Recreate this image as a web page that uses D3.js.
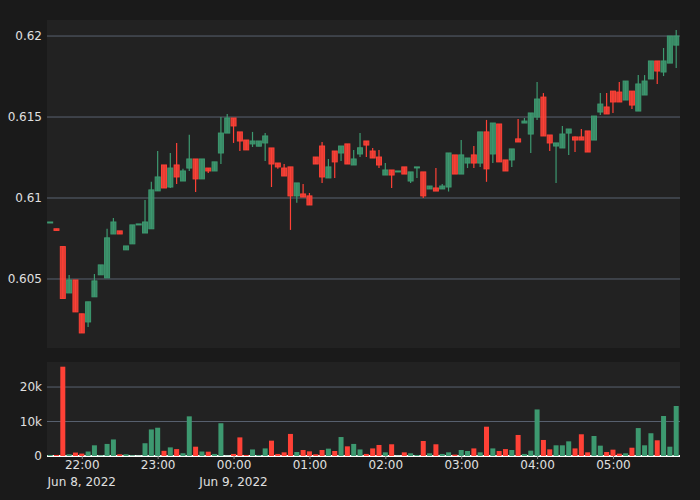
<!DOCTYPE html>
<html>
<head>
<meta charset="utf-8">
<script src="https://cdn.jsdelivr.net/npm/d3@7"></script>
<style>
  body { margin: 0; background: #1a1a1a; }
  text { font-family: "DejaVu Sans", sans-serif; }
</style>
</head>
<body>
<svg id="chart"></svg>
<script>
// 5-minute candles, starting 2022-06-08 21:35
const startTime = new Date(2022, 5, 8, 21, 35);
const opens  = [0.60852,0.6081,0.6070,0.60414,0.60494,0.60285,0.60235,0.6039,0.60526,0.60507,0.60778,0.60797,0.6068,0.60717,0.60834,0.60784,0.6081,0.61044,0.61204,0.61068,0.61204,0.61105,0.61185,0.61241,0.61118,0.61185,0.61167,0.61278,0.61401,0.61494,0.61408,0.61358,0.61334,0.6132,0.6134,0.61309,0.61216,0.61185,0.61192,0.61013,0.61025,0.61013,0.61253,0.61321,0.61124,0.6129,0.61278,0.61334,0.61204,0.61272,0.61352,0.6129,0.61253,0.61142,0.61173,0.61161,0.61192,0.61105,0.61186,0.61161,0.61056,0.61062,0.61056,0.61068,0.61266,0.61148,0.61216,0.61266,0.61216,0.61408,0.61272,0.61457,0.61235,0.61235,0.61365,0.61463,0.61395,0.615,0.61623,0.61389,0.61321,0.61309,0.61401,0.61377,0.61377,0.61414,0.61358,0.61531,0.61562,0.6166,0.61654,0.61605,0.6166,0.61537,0.61636,0.61735,0.61846,0.61778,0.61833,0.61944];
const highs  = [0.60852,0.6081,0.6070,0.60525,0.60494,0.60285,0.60359,0.60531,0.60587,0.6081,0.60877,0.60797,0.60704,0.60834,0.6084,0.60988,0.6110,0.6129,0.61204,0.61278,0.6134,0.6118,0.6139,0.61241,0.61241,0.61185,0.61223,0.615,0.61519,0.61494,0.61408,0.61358,0.61408,0.61352,0.61401,0.61309,0.61216,0.6121,0.61192,0.61093,0.61087,0.61031,0.61253,0.61346,0.61241,0.6129,0.61321,0.61334,0.61297,0.61401,0.61352,0.61309,0.61297,0.61216,0.61173,0.61167,0.61192,0.61161,0.61192,0.61161,0.61074,0.61186,0.61087,0.61278,0.61266,0.61358,0.61247,0.61321,0.61408,0.61482,0.61463,0.61457,0.61235,0.61303,0.61488,0.61494,0.61525,0.61716,0.61648,0.61389,0.6134,0.61445,0.61426,0.6138,0.61426,0.61414,0.61506,0.61648,0.61648,0.6166,0.61716,0.61722,0.6166,0.61759,0.61759,0.61846,0.61846,0.61926,0.62,0.62037];
const lows   = [0.60852,0.6080,0.6038,0.60414,0.60297,0.60167,0.60204,0.6039,0.60526,0.60507,0.60778,0.60778,0.6068,0.60717,0.60834,0.60784,0.6081,0.61044,0.61062,0.61062,0.61087,0.61105,0.61167,0.61037,0.61118,0.61155,0.61167,0.6121,0.61401,0.6134,0.6129,0.61297,0.61315,0.6132,0.61229,0.61068,0.6118,0.61136,0.60803,0.6097,0.61006,0.60957,0.6121,0.61093,0.61124,0.61124,0.61229,0.6121,0.61204,0.61253,0.61253,0.61247,0.61185,0.61142,0.61062,0.61161,0.61148,0.61093,0.61124,0.61,0.61056,0.61043,0.61056,0.6104,0.61148,0.61148,0.61185,0.61185,0.61192,0.611,0.61216,0.61223,0.61167,0.61192,0.61346,0.61463,0.61278,0.61482,0.61383,0.6129,0.61093,0.61309,0.61266,0.61284,0.61358,0.61284,0.61358,0.61512,0.61519,0.61525,0.61593,0.61605,0.6155,0.61537,0.61636,0.61735,0.61704,0.61753,0.61833,0.61803];
const closes = [0.60852,0.6080,0.6038,0.60494,0.60297,0.60167,0.60359,0.60488,0.60587,0.60754,0.60852,0.60778,0.60704,0.60834,0.6084,0.60852,0.6105,0.6113,0.61062,0.61185,0.6113,0.61167,0.61241,0.61118,0.61241,0.61167,0.61223,0.61401,0.61494,0.61445,0.61352,0.61297,0.61352,0.61352,0.61383,0.6121,0.61192,0.61136,0.61013,0.61093,0.61006,0.60957,0.6121,0.6113,0.61192,0.61223,0.61321,0.6121,0.61241,0.6131,0.61327,0.61247,0.61204,0.61173,0.61142,0.61167,0.61148,0.61161,0.61192,0.61013,0.61074,0.61043,0.61074,0.61278,0.61148,0.61266,0.61247,0.61216,0.61408,0.6118,0.61463,0.61223,0.61167,0.61303,0.61346,0.61475,0.61525,0.61611,0.61383,0.6134,0.6134,0.61395,0.61426,0.61358,0.61358,0.61284,0.61506,0.6158,0.61519,0.61593,0.61593,0.61722,0.61574,0.61704,0.61722,0.61846,0.61784,0.61846,0.62,0.62];
const volumes = [300,300,25900,500,1000,700,1300,3100,200,3500,4800,500,500,200,100,3700,7700,8200,1500,2500,2000,800,11500,2700,1300,1250,600,9500,100,600,5400,300,1900,300,2200,4450,600,1060,6400,1160,1740,1350,500,1740,2130,1450,5500,2800,3500,1900,600,2200,3200,1060,3400,100,1060,780,300,4350,780,3400,600,1060,400,1740,1450,2200,1060,8500,2200,1450,2000,1740,6100,600,1550,13500,4650,1930,3100,3100,4250,2200,6300,1060,5800,3000,1160,1840,680,780,2400,8100,3100,6600,4550,11600,2700,14500];
const priceTicks = [0.605, 0.61, 0.615, 0.62];
const volumeTicks = [0, 10000, 20000];

const candles = opens.map((o, i) => ({
  t: new Date(startTime.getTime() + i * 5 * 60000),
  o: o, h: highs[i], l: lows[i], c: closes[i], v: volumes[i]
}));

const width = 700, height = 500;
const left = 47, right = 680;
const priceTop = 20, priceBottom = 348;
const volTop = 362, volBottom = 456;
const up = '#3d9970', down = '#ff4136';

const svg = d3.select('#chart').attr('width', width).attr('height', height);
svg.append('rect').attr('width', width).attr('height', height).attr('fill', '#1a1a1a');
svg.append('rect').attr('x', left).attr('y', priceTop).attr('width', right - left).attr('height', priceBottom - priceTop).attr('fill', '#222');
svg.append('rect').attr('x', left).attr('y', volTop).attr('width', right - left).attr('height', volBottom - volTop).attr('fill', '#222');

const xscale = d3.scaleTime()
  .domain([new Date(2022, 5, 8, 21, 32, 30), new Date(2022, 5, 9, 5, 53, 0)])
  .range([left, right]);
const yscale = d3.scaleLinear().domain([0.60074, 0.62099]).range([priceBottom, priceTop]);
const vscale = d3.scaleLinear().domain([0, 27260]).range([volBottom, volTop]);

// grid + y labels
svg.append('g').selectAll('line').data(priceTicks).join('line')
  .attr('x1', left).attr('x2', right)
  .attr('y1', d => yscale(d)).attr('y2', d => yscale(d))
  .attr('stroke', '#596270');
svg.append('g').selectAll('text').data(priceTicks).join('text')
  .attr('x', left - 5).attr('y', d => yscale(d)).attr('dy', '0.35em')
  .attr('text-anchor', 'end').attr('fill', '#e0e0e0').attr('font-size', 12)
  .text(d => d3.format('')(d));

svg.append('g').selectAll('line').data(volumeTicks).join('line')
  .attr('x1', left).attr('x2', right)
  .attr('y1', d => vscale(d)).attr('y2', d => vscale(d))
  .attr('stroke', d => d === 0 ? '#ffffff' : '#596270')
  .attr('stroke-width', d => d === 0 ? 2 : 1);
svg.append('g').selectAll('text').data(volumeTicks).join('text')
  .attr('x', left - 5).attr('y', d => vscale(d)).attr('dy', '0.35em')
  .attr('text-anchor', 'end').attr('fill', '#e0e0e0').attr('font-size', 12)
  .text(d => d === 0 ? '0' : d3.format('~s')(d));

const bw = 5;
const color = d => d.c >= d.o ? up : down;

const cg = svg.append('g');
cg.selectAll('line').data(candles).join('line')
  .attr('x1', d => xscale(d.t)).attr('x2', d => xscale(d.t))
  .attr('y1', d => yscale(d.h)).attr('y2', d => yscale(d.l))
  .attr('stroke', color).attr('stroke-width', 1.2);
cg.selectAll('rect').data(candles).join('rect')
  .attr('x', d => xscale(d.t) - bw / 2)
  .attr('y', d => yscale(Math.max(d.o, d.c)))
  .attr('width', bw)
  .attr('height', d => Math.max(1, Math.abs(yscale(d.o) - yscale(d.c))))
  .attr('fill', color).attr('fill-opacity', 0.85)
  .attr('stroke', color).attr('stroke-width', 1);

svg.append('g').selectAll('rect').data(candles).join('rect')
  .attr('x', d => xscale(d.t) - bw / 2)
  .attr('y', d => vscale(d.v))
  .attr('width', bw)
  .attr('height', d => volBottom - vscale(d.v))
  .attr('fill', color);

// x axis
const xaxis = d3.axisBottom(xscale)
  .ticks(d3.timeHour.every(1))
  .tickFormat(d3.timeFormat('%H:%M'))
  .tickSize(3);
const xg = svg.append('g').attr('transform', `translate(0, ${volBottom})`).call(xaxis);
xg.select('.domain').remove();
xg.selectAll('line').attr('stroke', '#888');
xg.selectAll('text').attr('fill', '#e0e0e0').attr('font-size', 12).attr('dy', '0.55em');

const dateLabels = [new Date(2022, 5, 8, 22), new Date(2022, 5, 9, 0)];
svg.append('g').selectAll('text').data(dateLabels).join('text')
  .attr('x', d => xscale(d)).attr('y', 486)
  .attr('text-anchor', 'middle').attr('fill', '#e0e0e0').attr('font-size', 12)
  .text(d3.timeFormat('%b %-d, %Y'));
</script>
</body>
</html>
